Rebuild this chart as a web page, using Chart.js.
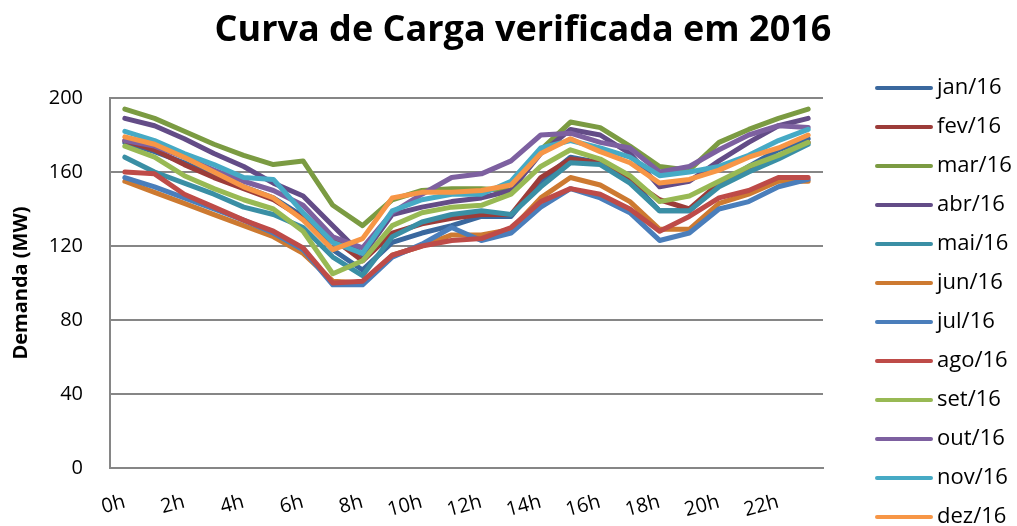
<!DOCTYPE html>
<html lang="pt">
<head>
<meta charset="UTF-8">
<title>Curva de Carga verificada em 2016</title>
<script src="https://cdn.jsdelivr.net/npm/chart.js"></script>
<style>
  html, body { margin: 0; padding: 0; background: #fff; }
</style>
</head>
<body>
<canvas id="curvaCarga" width="1017" height="526"></canvas>
<script>
const horas = ['0h', '1h', '2h', '3h', '4h', '5h', '6h', '7h', '8h', '9h', '10h', '11h',
               '12h', '13h', '14h', '15h', '16h', '17h', '18h', '19h', '20h', '21h', '22h', '23h'];
const meses = ['jan/16', 'fev/16', 'mar/16', 'abr/16', 'mai/16', 'jun/16',
               'jul/16', 'ago/16', 'set/16', 'out/16', 'nov/16', 'dez/16'];
const cores = ['#3a689e', '#9c3c39', '#7b9b42', '#634c87', '#3a8fa5', '#cd7a31',
               '#4a7ebb', '#be4b48', '#98b954', '#7d60a0', '#46aac5', '#f79646'];
const yTicks = [0, 40, 80, 120, 160, 200];

// demanda em MW
const jan = [176, 171, 165, 158, 152, 146, 136, 118, 107, 122, 127, 131, 136, 136, 155, 168, 165, 156, 139, 139, 153, 163, 172, 178];
const fev = [177, 172, 164, 157, 151, 145, 135, 124, 112, 127, 132, 135, 137, 137, 157, 167, 165, 156, 145, 140, 154, 162, 168, 176];
const mar = [194, 189, 182, 175, 169, 164, 166, 142, 131, 145, 150, 151, 151, 150, 172, 187, 184, 174, 163, 161, 176, 183, 189, 194];
const abr = [189, 185, 178, 170, 163, 154, 147, 131, 115, 137, 141, 144, 146, 150, 170, 183, 180, 170, 152, 155, 166, 176, 185, 189];
const mai = [168, 160, 154, 148, 141, 137, 130, 114, 104, 125, 133, 137, 139, 137, 152, 165, 164, 154, 139, 139, 152, 160, 167, 175];
const jun = [155, 149, 143, 137, 131, 125, 116, 101, 100, 115, 120, 126, 126, 129, 146, 157, 153, 144, 129, 129, 143, 148, 155, 155];
const jul = [157, 152, 146, 140, 134, 127, 118, 99, 99, 114, 121, 130, 123, 127, 141, 151, 146, 138, 123, 127, 140, 144, 152, 156];
const ago = [160, 159, 148, 141, 134, 128, 119, 100, 101, 115, 120, 123, 124, 130, 144, 151, 148, 140, 128, 136, 146, 150, 157, 157];
const set = [174, 168, 158, 151, 145, 140, 128, 105, 112, 131, 138, 141, 142, 148, 163, 172, 167, 158, 144, 147, 155, 163, 169, 176];
const out = [177, 174, 168, 161, 155, 150, 142, 125, 119, 138, 148, 157, 159, 166, 180, 181, 176, 173, 160, 163, 172, 180, 185, 184];
const nov = [182, 177, 170, 164, 157, 156, 138, 122, 116, 139, 145, 148, 148, 155, 173, 177, 173, 168, 158, 160, 163, 169, 177, 183];
const dez = [179, 175, 168, 160, 152, 146, 134, 118, 124, 146, 149, 149, 150, 153, 170, 178, 171, 165, 154, 156, 161, 168, 173, 180];

const series = [jan, fev, mar, abr, mai, jun, jul, ago, set, out, nov, dez];

const fonte = "'Open Sans', sans-serif";

// titulo e legenda desenhados a mao (a legenda do Chart.js quebra em duas colunas)
const tituloELegenda = {
    id: 'tituloELegenda',
    afterDraw(chart) {
        const ctx = chart.ctx;
        ctx.save();
        ctx.fillStyle = '#000';
        ctx.textAlign = 'center';
        ctx.textBaseline = 'middle';
        ctx.font = 'bold 36px ' + fonte;
        ctx.fillText('Curva de Carga verificada em 2016', 523, 31);

        const x0 = chart.chartArea.right + 54;
        ctx.textAlign = 'left';
        ctx.lineCap = 'round';
        ctx.lineWidth = 4;
        ctx.font = '22px ' + fonte;
        chart.data.datasets.forEach((ds, i) => {
            const y = 88 + i * 39;
            ctx.strokeStyle = ds.borderColor;
            ctx.beginPath();
            ctx.moveTo(x0, y);
            ctx.lineTo(x0 + 54, y);
            ctx.stroke();
            ctx.fillText(ds.label, x0 + 60, y);
        });
        ctx.restore();
    }
};

const datasets = series.map((dados, i) => ({
    label: meses[i],
    data: dados,
    borderColor: cores[i],
    backgroundColor: cores[i],
    borderWidth: 5,
    borderCapStyle: 'round',
    borderJoinStyle: 'round',
    pointRadius: 0,
    tension: 0,
    order: series.length - 1 - i
}));

new Chart(document.getElementById('curvaCarga'), {
    type: 'line',
    data: { labels: horas, datasets: datasets },
    plugins: [tituloELegenda],
    options: {
        responsive: false,
        animation: false,
        events: [],
        layout: { padding: { left: 6, right: 194, top: 98, bottom: 0 } },
        plugins: {
            legend: { display: false },
            tooltip: { enabled: false },
            title: { display: false }
        },
        scales: {
            x: {
                offset: true,
                afterFit: axis => { axis.height = 58; },
                grid: { display: false, drawTicks: false },
                border: { display: true, color: '#868686', width: 2 },
                ticks: {
                    autoSkip: false,
                    minRotation: 15,
                    maxRotation: 15,
                    padding: 22,
                    color: '#000',
                    font: { family: fonte, size: 20 },
                    callback: (v, i) => (i % 2 === 0 ? horas[i] : '')
                }
            },
            y: {
                min: 0,
                max: 200,
                afterFit: axis => { axis.width = 104; },
                afterBuildTicks: axis => { axis.ticks = yTicks.map(v => ({ value: v })); },
                grid: { color: '#868686', lineWidth: 2, drawTicks: false },
                border: { display: true, color: '#868686', width: 2 },
                ticks: {
                    padding: 27,
                    color: '#000',
                    font: { family: fonte, size: 20 }
                },
                title: {
                    display: true,
                    text: 'Demanda (MW)',
                    color: '#000',
                    font: { family: fonte, size: 20, weight: 'bold' },
                    padding: { top: 3, bottom: 4 }
                }
            }
        }
    }
});
</script>
</body>
</html>
